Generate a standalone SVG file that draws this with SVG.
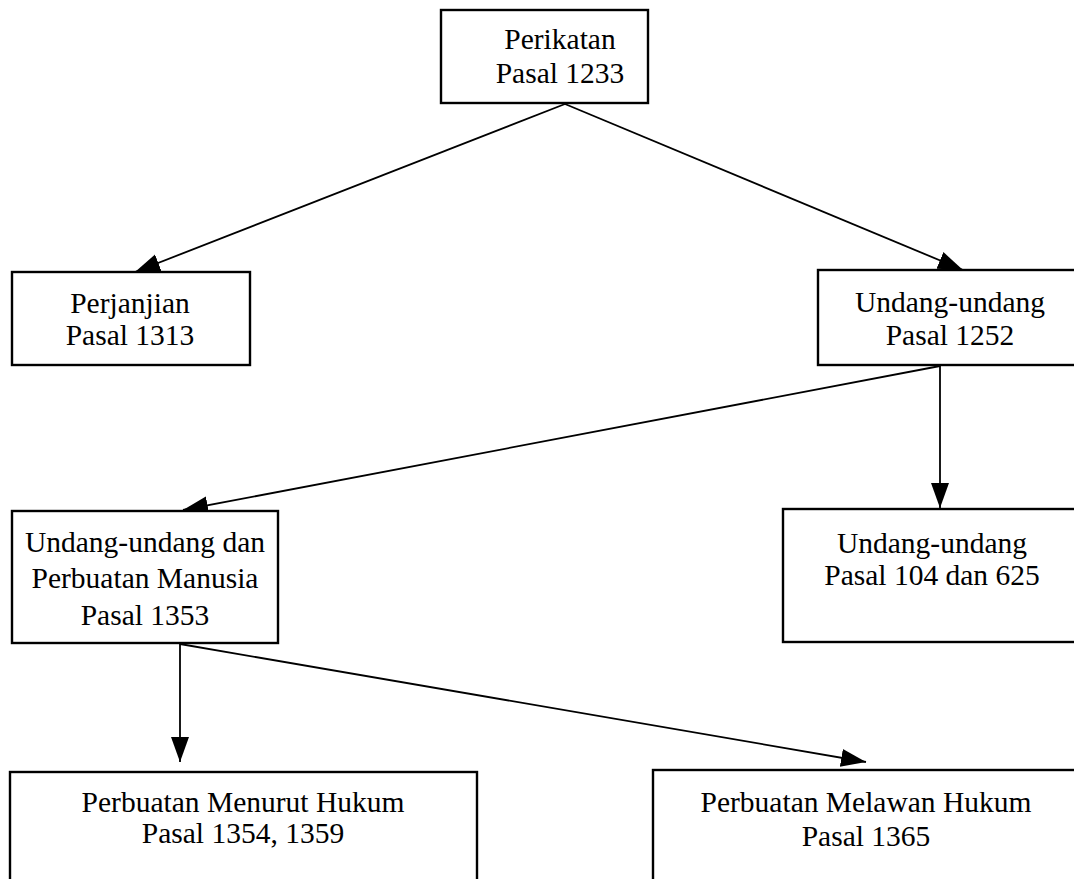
<svg xmlns="http://www.w3.org/2000/svg" width="1074" height="879" viewBox="0 0 1074 879">
<defs>
<style>
.box{fill:#fff;stroke:#000;stroke-width:2.4}
.t{font-family:"Liberation Serif","Times New Roman",serif;font-size:29.5px;fill:#000;text-anchor:middle}
.c{stroke:#000;stroke-width:1.8;fill:none;marker-end:url(#ah)}
</style>
<marker id="ah" markerUnits="userSpaceOnUse" markerWidth="26" markerHeight="22" viewBox="0 0 26 22" refX="25" refY="11" orient="auto">
<path d="M0,2 L25,11 L0,20 Z" fill="#000"/>
</marker>
</defs>
<rect width="1074" height="879" fill="#fff"/>
<g id="connectors">
<line class="c" x1="565" y1="104" x2="135" y2="272"/>
<line class="c" x1="565" y1="104" x2="963" y2="270"/>
<line class="c" x1="940" y1="366" x2="183" y2="510"/>
<line class="c" x1="940" y1="366" x2="940" y2="508"/>
<line class="c" x1="180" y1="644" x2="180" y2="762"/>
<line class="c" x1="180" y1="644" x2="866" y2="762"/>
</g>
<g id="perikatan">
<rect class="box" x="441" y="10" width="207" height="93"/>
<text class="t" x="560" y="49">Perikatan</text>
<text class="t" x="560" y="83">Pasal 1233</text>
</g>
<g id="perjanjian">
<rect class="box" x="12" y="272" width="238" height="93"/>
<text class="t" x="130" y="313">Perjanjian</text>
<text class="t" x="130" y="345">Pasal 1313</text>
</g>
<g id="undang1252">
<rect class="box" x="818" y="270" width="270" height="95"/>
<text class="t" x="950" y="312">Undang-undang</text>
<text class="t" x="950" y="345">Pasal 1252</text>
</g>
<g id="undangManusia">
<rect class="box" x="12" y="511" width="266" height="132"/>
<text class="t" x="145" y="552">Undang-undang dan</text>
<text class="t" x="145" y="588">Perbuatan Manusia</text>
<text class="t" x="145" y="625">Pasal 1353</text>
</g>
<g id="undang104">
<rect class="box" x="783" y="509" width="305" height="133"/>
<text class="t" x="932" y="553">Undang-undang</text>
<text class="t" x="932" y="585">Pasal 104 dan 625</text>
</g>
<g id="menurutHukum">
<rect class="box" x="10" y="772" width="467" height="130"/>
<text class="t" x="243" y="812">Perbuatan Menurut Hukum</text>
<text class="t" x="243" y="843">Pasal 1354, 1359</text>
</g>
<g id="melawanHukum">
<rect class="box" x="653" y="770" width="435" height="130"/>
<text class="t" x="866" y="812">Perbuatan Melawan Hukum</text>
<text class="t" x="866" y="846">Pasal 1365</text>
</g>
</svg>
